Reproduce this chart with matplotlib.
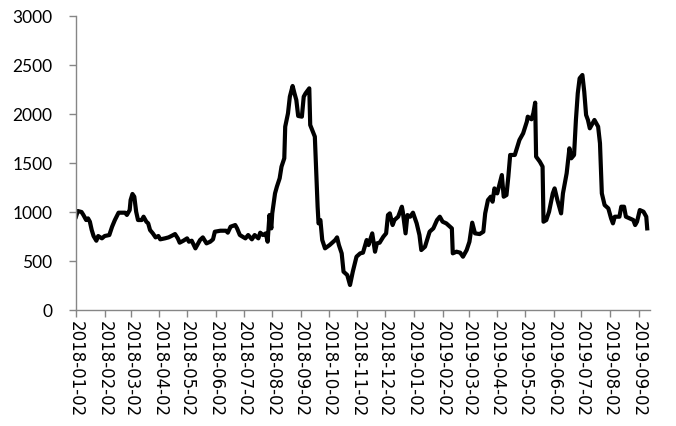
import numpy as np
import matplotlib
matplotlib.use('Agg')
import matplotlib.pyplot as plt
import matplotlib.dates as mdates

start = np.datetime64('2018-01-02')
end_day = 620  # right end of the date axis, days after start

# days after 2018-01-02 and the reading on that day
days = [0, 2, 6, 8, 11, 13, 15, 17, 19, 22, 24, 28, 31, 36, 39, 42, 46, 53, 55, 58,
        59, 61, 63, 65, 67, 71, 73, 76, 78, 80, 83, 86, 89, 91, 96, 100, 103, 107, 110, 112,
        116, 120, 122, 125, 129, 131, 134, 137, 141, 145, 148, 150, 156, 162, 164, 167, 172, 174, 177, 180,
        183, 186, 190, 193, 197, 199, 202, 205, 207, 209, 211, 212, 215, 217, 220, 222, 225, 226, 229, 231,
        234, 236, 238, 240, 244, 246, 248, 252, 253, 258, 261, 262, 264, 266, 269, 274, 280, 282, 284, 287,
        289, 293, 296, 299, 303, 307, 310, 314, 316, 320, 323, 325, 328, 332, 335, 337, 339, 342, 344, 348,
        352, 353, 356, 358, 361, 364, 368, 371, 373, 377, 382, 386, 390, 393, 396, 400, 406, 407, 411, 415,
        418, 422, 425, 428, 431, 436, 440, 442, 445, 448, 450, 452, 455, 460, 462, 465, 467, 469, 474, 477,
        479, 483, 487, 488, 492, 494, 496, 497, 501, 504, 505, 508, 511, 515, 517, 520, 524, 526, 530, 533,
        535, 538, 540, 542, 544, 547, 549, 551, 553, 555, 558, 560, 564, 566, 568, 571, 575, 578, 580, 582,
        587, 589, 592, 594, 598, 602, 604, 606, 609, 613, 616, 617]
values = [952, 1010, 1000, 970, 918, 935, 901, 816, 755, 707, 755, 731, 755, 765, 850, 918, 993, 993, 970, 1020,
          1122, 1184, 1156, 1003, 918, 918, 952, 901, 884, 816, 782, 741, 755, 721, 731, 741, 755, 775, 731, 687,
          707, 731, 697, 707, 629, 663, 714, 741, 680, 697, 721, 799, 809, 809, 789, 850, 867, 833, 765, 748,
          731, 765, 721, 765, 731, 789, 765, 782, 697, 969, 833, 986, 1190, 1258, 1344, 1463, 1548, 1871, 2007, 2177,
          2286, 2211, 2143, 1980, 1973, 2177, 2211, 2262, 1888, 1769, 1054, 884, 918, 714, 629, 663, 714, 741, 663, 578,
          391, 357, 255, 391, 544, 578, 585, 714, 663, 782, 595, 680, 687, 748, 782, 969, 986, 867, 918, 952,
          1054, 1003, 782, 969, 952, 993, 884, 765, 612, 646, 799, 833, 918, 952, 901, 884, 833, 578, 595, 585,
          544, 612, 697, 891, 782, 775, 799, 986, 1122, 1156, 1105, 1241, 1190, 1377, 1156, 1173, 1360, 1582, 1582, 1673,
          1735, 1803, 1922, 1973, 1946, 2007, 2116, 1565, 1514, 1463, 901, 918, 1003, 1190, 1241, 1122, 986, 1190, 1395, 1650,
          1548, 1582, 1939, 2211, 2364, 2398, 2228, 1990, 1939, 1854, 1905, 1939, 1871, 1701, 1190, 1071, 1037, 935, 884, 952,
          952, 1054, 1054, 952, 935, 918, 867, 901, 1020, 1003, 952, 833]

dates = start + np.array(days).astype('timedelta64[D]')
grey = '#868686'

fig = plt.figure(figsize=(6.76, 4.26), dpi=100)
ax = fig.add_axes([0.1124, 0.2723, 0.8491, 0.6901])
ax.plot(dates, values, color='black', linewidth=3, solid_joinstyle='round')

ax.set_ylim(0, 3000)
ax.set_yticks(range(0, 3001, 500))
ax.set_xlim(start, start + np.timedelta64(end_day, 'D'))
ax.xaxis.set_major_locator(mdates.MonthLocator(bymonthday=2))
ax.xaxis.set_major_formatter(mdates.DateFormatter('%Y-%m-%d'))

for s in ['top', 'right']:
    ax.spines[s].set_visible(False)
for s in ['left', 'bottom']:
    ax.spines[s].set_color(grey)
    ax.spines[s].set_linewidth(1.0)

ax.tick_params(axis='y', direction='out', length=5, width=1, color=grey, pad=12)
ax.tick_params(axis='x', direction='out', length=5, width=1, color=grey, pad=3)
for lbl in ax.get_yticklabels():
    lbl.set_fontfamily('Lato')
    lbl.set_fontsize(12.5)
for lbl in ax.get_xticklabels():
    lbl.set_fontfamily('DejaVu Sans')
    lbl.set_fontsize(12)
    lbl.set_rotation(-90)
    lbl.set_va('top')
    lbl.set_ha('center')

plt.savefig('out.png', dpi=100)
